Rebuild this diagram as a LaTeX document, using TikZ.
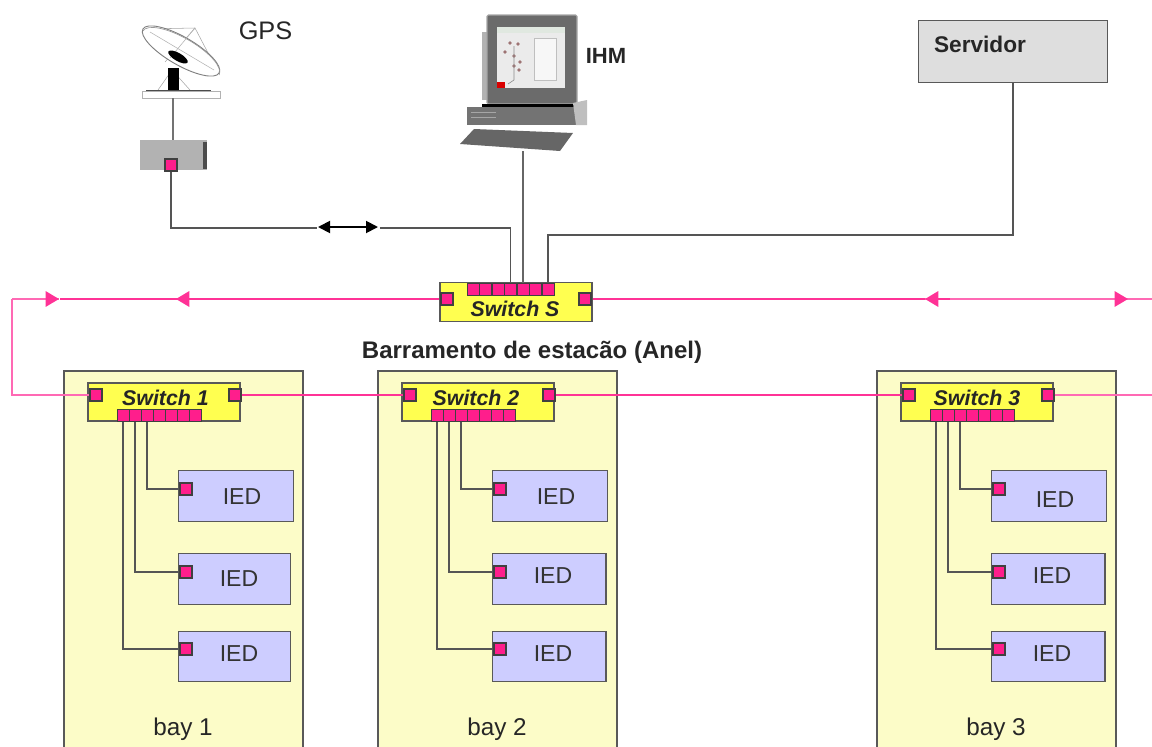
\documentclass[tikz,border=0pt]{standalone}
\usepackage{fontspec}
\setmainfont{Liberation Sans}
\definecolor{ringpink}{RGB}{255, 50, 150}
\definecolor{ringlight}{RGB}{255, 105, 180}
\definecolor{portpink}{RGB}{255, 30, 140}
\definecolor{bayyellow}{RGB}{252, 252, 200}
\definecolor{swyellow}{RGB}{255, 255, 80}
\definecolor{iedblue}{RGB}{205, 205, 255}
\definecolor{wiregray}{RGB}{85, 85, 85}
\usetikzlibrary{arrows.meta}

\begin{document}
\begin{tikzpicture}[
  x=0.75pt, y=-0.75pt,
  wire/.style={draw=wiregray, line width=1.25pt},
  ring/.style={draw=ringpink, line width=1.7pt},
  ringthin/.style={draw=ringlight, line width=1.4pt},
  ringtip/.style={-{Triangle[length=10pt,width=11.5pt,color=ringpink]}},
  portbox/.style={draw=black!75, fill=portpink, line width=0.8pt, minimum size=9pt, inner sep=0pt},
  pinbox/.style={draw=black!75, fill=portpink, line width=0.6pt, minimum width=9pt, minimum height=9.5pt, inner sep=0pt},
  swbox/.style={draw=black!65, fill=swyellow, line width=0.8pt, minimum width=114pt, minimum height=29pt, inner sep=0pt},
  baybox/.style={draw=black!65, fill=bayyellow, line width=0.8pt},
  iedbox/.style={draw=black!65, fill=iedblue, line width=0.9pt, minimum height=38pt, inner sep=0pt},
  swlabel/.style={font=\fontsize{16}{18}\selectfont\bfseries\itshape, text=black!85},
  iedlabel/.style={font=\fontsize{17.3}{18}\selectfont, text=black!80},
  baylabel/.style={font=\fontsize{18.2}{20}\selectfont, text=black!85}
]
  \clip (0,0) rectangle (1152,746);

  % antenna
  \draw[black!35, line width=0.4pt] (146,29) -- (195,28) -- (218,72) (195,28) -- (165,62) (158,90) -- (172,70) (190,90) -- (172,70);
  \draw[draw=black!50, fill=white, line width=0.7pt, rotate around={-30:(181,51)}] (181,51) ellipse (44 and 14);
  \draw[draw=black!40, line width=0.5pt, rotate around={-30:(181,53)}] (137,53) arc (180:360:44 and 15);
  \draw[black!30, line width=0.4pt] (150,32) -- (214,70) (195,28) -- (170,58);
  \fill[black, rotate around={-30:(178,57)}] (178,57) ellipse (11 and 4);
  \fill[black] (168,68) rectangle (179,90);
  \draw[draw=black!30, fill=white, line width=0.5pt] (142,91) rectangle (220,98);
  \draw[black!70, line width=0.6pt] (146,90) -- (211,90);

  % gps receiver
  \node[fill=black!30, minimum width=50pt, minimum height=22pt, inner sep=0pt] (gpsbox) at (173.5,155) {};
  \fill[black!70] (203,142) rectangle (207,169);
  \node[portbox] (gpsport) at (171,165) {};
  \node[font=\fontsize{19}{21}\selectfont, text=black!85] (gpslabel) at (265.5,31) {GPS};
  \coordinate (antfoot) at (173,98);
  \draw[wire, draw=black!55] (antfoot) -- (gpsbox.north -| antfoot);

  % computer
  \fill[black!30] (482,32) rectangle (488,100);
  \draw[draw=black!35, fill=black!58, line width=0.8pt, rounded corners=1pt] (487,15) rectangle (577,104);
  \fill[black!8] (497,27) rectangle (565,88);
  \fill[green!25!black!12] (497,27) rectangle (565,33);
  \draw[black!25, fill=black!3] (534,38) rectangle (556,80);
  \foreach \dotx/\doty in {510/43, 518/44, 505/52, 514/56, 520/62, 514/66, 519/70}
    \fill[red!30!black!55] (\dotx,\doty) circle (1.8);
  \draw[black!45, line width=0.5pt] (514,46) -- (514,80) -- (508,84);
  \fill[red!85!black] (497,82) rectangle (505,88);
  \fill[black] (482,104) rectangle (577,107);
  \fill[black!55] (467,107) rectangle (587,125);
  \fill[black!25] (573,103) -- (587,100) -- (587,125) -- (576,125) -- cycle;
  \draw[black!35, line width=0.6pt] (471,112) -- (496,112) (471,117) -- (496,117);
  \fill[black!60] (460,144) -- (474,129) -- (573,133) -- (560,151) -- cycle;
  \node[font=\fontsize{16.5}{18}\selectfont\bfseries, text=black!85] (ihmlabel) at (606,56) {IHM};
  \coordinate (pcfoot) at (523,151);

  % server
  \node[draw=black!65, fill=black!13, line width=0.8pt, minimum width=142pt, minimum height=47pt, inner sep=0pt] (server) at (1013,51.5) {};
  \node[font=\fontsize{17}{19}\selectfont\bfseries, text=black!85] (serverlabel) at (980,44) {Servidor};

  % station switch
  \draw[ring] (60,299) -- (440,299);
  \draw[ring] (592,299) -- (925,299);
  \draw[ringthin] (925,299) -- (1152,299);
  \node[swbox] (swS) at (516,302) {};
  \node[portbox] (swSleft) at (447,299) {};
  \node[portbox] (swSright) at (585,299) {};
  \foreach \i in {0,...,6}
    \node[pinbox] (swSpin\i) at (473+\i*12.5,289.5) {};
  \node[swlabel] (swSlabel) at (515,309) {Switch S};
  \node[font=\fontsize{18}{20}\selectfont\bfseries, text=black!85] (buslabel) at (532,352) {Barramento de estacão (Anel)};

  % wires to station switch
  \draw[wire] (gpsport.south) |- (swSpin3.north |- 0,228) -- (swSpin3.north);
  \draw[wire, draw=black!60] (pcfoot) -- (swSpin4.north);
  \draw[wire] (server.south) |- (swSpin6.north |- 0,235) -- (swSpin6.north);
  \fill[white] (317,222) rectangle (380,234);
  \coordinate (gpsarrowa) at (318,227);
  \coordinate (gpsarrowb) at (378,227);
  \draw[{Triangle[length=9pt,width=9pt]}-{Triangle[length=9pt,width=9pt]}, black, line width=1.4pt] (gpsarrowa) -- (gpsarrowb);

  % ring arrows
  \coordinate (ringa) at (59,299);
  \coordinate (ringb) at (176,299);
  \coordinate (ringc) at (925,299);
  \coordinate (ringd) at (1128,299);
  \coordinate (ringstart) at (12,299);
  \draw[ringthin] (ringstart) -- (ringa);
  \draw[ringtip, ringthin] (30,299) -- (ringa);
  \draw[ringtip, ring] (200,299) -- (ringb);
  \draw[ringtip, ring] (950,299) -- (ringc);
  \draw[ringtip, ringthin] (1100,299) -- (ringd);

  % bays
  \foreach \bx/\bayname/\lx/\ya/\yb/\yc/\wa/\wb/\wc in {
    64/1/101.5/497/579/654/86/84/84,
    378/2/98/497/576/654/86/85/85,
    877/3/100/500/576/654/86/85/85}{
    \draw[baybox] (\bx,371) rectangle (\bx+239,770);
    \node[swbox, minimum height=28.5pt] (sw\bayname) at (\bx+100,402) {};
    \node[portbox] (sw\bayname left) at (\bx+32,395) {};
    \node[portbox] (sw\bayname right) at (\bx+171,395) {};
    \foreach \i in {0,...,6}
      \node[pinbox] (sw\bayname pin\i) at (\bx+59+\i*12,415.5) {};
    \node[swlabel] (sw\bayname label) at (\bx+\lx,398) {Switch \bayname};
    \node[iedbox, minimum width=\wa pt, anchor=west] (ied\bayname a) at (\bx+114,496) {};
    \node[iedbox, minimum width=\wb pt, anchor=west] (ied\bayname b) at (\bx+114,579) {};
    \node[iedbox, minimum width=\wc pt, anchor=west] (ied\bayname c) at (\bx+114,656.5) {};
    \node[portbox] (ied\bayname aport) at (\bx+122,489) {};
    \node[portbox] (ied\bayname bport) at (\bx+122,572) {};
    \node[portbox] (ied\bayname cport) at (\bx+122,649) {};
    \node[iedlabel] (ied\bayname atext) at (\bx+178,\ya) {IED};
    \node[iedlabel] (ied\bayname btext) at (\bx+175,\yb) {IED};
    \node[iedlabel] (ied\bayname ctext) at (\bx+175,\yc) {IED};
    \draw[wire] (sw\bayname pin2.south) |- (ied\bayname aport.west);
    \draw[wire] (sw\bayname pin1.south) |- (ied\bayname bport.west);
    \draw[wire] (sw\bayname pin0.south) |- (ied\bayname cport.west);
    \node[baylabel] (bay\bayname) at (\bx+119,729) {bay \bayname};
  }

  % ring between bays
  \coordinate (ringright) at (1152,395);
  \draw[ringthin] (ringstart) |- (sw1left.west);
  \draw[ring] (sw1right.east) -- (sw2left.west);
  \draw[ring] (sw2right.east) -- (sw3left.west);
  \draw[ringthin] (sw3right.east) -- (ringright);
\end{tikzpicture}
\end{document}
